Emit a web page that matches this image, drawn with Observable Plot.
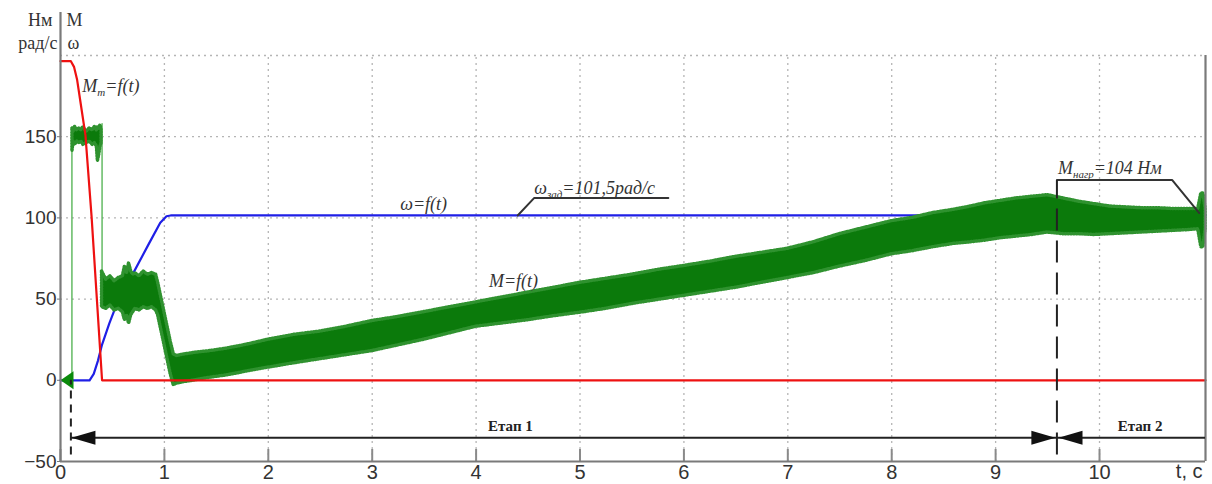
<!DOCTYPE html>
<html><head><meta charset="utf-8">
<script src="https://cdn.jsdelivr.net/npm/d3@7"></script>
<script src="https://cdn.jsdelivr.net/npm/@observablehq/plot@0.6"></script>
<style>html,body{margin:0;padding:0;background:#fff;} #chart svg{display:block}</style>
</head><body><div id="chart"></div>
<script>
// ---- axes / ticks ----
const xDomain = [0, 11.02];
const yDomain = [-50, 200];
const xTicks = [0,1,2,3,4,5,6,7,8,9,10];
const xGrid = [1,2,3,4,5,6,7,8,9,10];
const yTicks = [-50,0,50,100,150];
const yGrid = [50,100,150,200];

// ---- Mт = f(t) (red) ----
const redT = [0, 0.10, 0.13, 0.16, 0.20, 0.24, 0.30, 0.35, 0.40, 11.02];
const redV = [196.5, 196.5, 193, 185, 168, 151, 100, 50, 0, 0];

// ---- ω = f(t) (blue) ----
const blueT = [0, 0.28, 0.32, 0.36, 0.40, 0.47, 0.56, 0.70, 0.85, 0.96, 1.02, 1.06, 11.02];
const blueV = [0, 0, 4, 12, 22, 35, 50, 66, 84, 97, 101, 101.5, 101.5];

// ---- M = f(t) (green, noisy band: lower / upper envelope) ----
// start-up segment (≈150 Нм)
const green1T  = [0.115,0.125,0.14,0.16,0.18,0.20,0.22,0.25,0.28,0.31,0.33,0.35,0.36,0.37,0.385,0.395];
const green1Lo = [141,147,145,147,146,147,145,146,147,145,146,144,135,138,144,146];
const green1Hi = [155,153,156,154,155,154,156,153,155,154,156,154,156,155,157,154];
// acceleration + load ramp
const green2T = [0.40,0.44,0.48,0.52,0.56,0.60,0.62,0.64,0.66,0.68,0.70,0.72,0.76,0.80,0.84,0.88,0.92,0.94,0.98,1.02,1.06,1.09,
  1.12,1.2,1.3,1.44,1.6,1.8,2.0,2.25,2.5,2.75,3.0,3.25,3.5,3.75,4.0,4.25,4.5,4.75,5.0,5.25,5.5,5.75,6.0,6.25,6.5,6.75,7.0,7.25,7.5,7.75,8.0,8.2,8.4,8.6,8.76,8.9,9.05,9.2,9.35,9.5,9.65,9.8,9.95,10.1,10.25,10.4,10.55,10.7,10.85,10.95,10.98,11.0,11.02];
const green2Lo = [45,44,46,43,44,42,37,40,35,40,42,44,43,45,44,45,43,40,28,16,4,-3,
  -2,-1,0,1.6,3,5.5,7.8,10.5,13,15.5,18,21.5,25,29,33,35,37,39.5,41.6,44,47,49.5,52,54.5,57,60,63,66,70,73.5,77.6,79.5,82,84,85,86,87.5,88.5,89.5,91,90,90,89.5,90,90.5,91,91.5,92,92.5,93,82,82,93];
const green2Hi = [67,62,64,61,63,64,70,66,72,67,65,66,64,67,65,66,65,60,48,36,24,16,
  15,16,17,18,19.5,22,25,28,30,33,36.5,39,42,45,48,51,54,57,60,62.5,65,68,70.4,73,76,78.5,81,85,90,94,98,100,103,105,107,109,110.5,112,113,114,112,110,108.5,107,106.5,106,106,105.5,105.5,105.5,115,115,106];
// thin switching edges of M
const thinSeg = [1,1,1,2,2];
const thinT = [0, 0.11, 0.11, 0.40, 0.40];
const thinV = [0, 0, 156, 158, 45];

// ---- texts ----
const unitLeft = ["Нм", "рад/с"];
const unitRight = ["М", "ω"];
const stages = ["Етап 1", "Етап 2"];
const subs = [
  {main: "М", sub: "т", rest: "=f(t)"},
  {main: "ω", sub: "зад", rest: "=101,5рад/с"},
  {main: "М", sub: "нагр", rest: "=104 Нм"}
];

// ---- build tables ----
const red = redT.map((t,i)=>({t, v: redV[i]}));
const blue = blueT.map((t,i)=>({t, v: blueV[i]}));
const green = [
  ...green1T.map((t,i)=>({t, lo: green1Lo[i], hi: green1Hi[i], s: 1})),
  ...green2T.map((t,i)=>({t, lo: green2Lo[i], hi: green2Hi[i], s: 2}))
];
const thin = thinT.map((t,i)=>({t, v: thinV[i], s: thinSeg[i]}));

const triLeft = {draw(ctx){ctx.moveTo(0,0);ctx.lineTo(24,-7);ctx.lineTo(24,7);ctx.closePath();}};
const triSmall = {draw(ctx){ctx.moveTo(0,0);ctx.lineTo(13,-9);ctx.lineTo(13,9);ctx.closePath();}};

const serif = "'Liberation Serif','Times New Roman',serif";
const ann = {fontFamily: serif, fontStyle: "italic", fontSize: 18, fill: "#333"};
const leaderW = 2;

const chart = Plot.plot({
  width: 1212, height: 484,
  marginLeft: 60, marginRight: 7, marginTop: 55, marginBottom: 23,
  x: {domain: xDomain},
  y: {domain: yDomain},
  style: {fontFamily: "'Liberation Sans', Arial, sans-serif", fontSize: "18px", color: "#333", background: "#fff"},
  marks: [
    // grid
    Plot.ruleX(xGrid, {x: d=>d, y1: yDomain[0], y2: yDomain[1], stroke: "#b5b5b5", strokeDasharray: "2,4", strokeWidth: 1.3}),
    Plot.ruleY(yGrid, {y: d=>d, stroke: "#b5b5b5", strokeDasharray: "2,4", strokeWidth: 1.3}),
    // inward x ticks
    Plot.ruleX(xTicks, {x: d=>d, y1: yDomain[0], y2: yDomain[0] + 7.4, stroke: "#8a8a8a", strokeWidth: 2}),
    // axes labels
    Plot.axisX(xTicks, {tickSize: 0, tickPadding: 3, label: null, fontSize: 20, fill: "#333"}),
    Plot.axisY(yTicks, {tickSize: 3, tickPadding: 1, label: null, fontSize: 19, fill: "#333", stroke: "#777"}),
    // curves
    Plot.line(blue, {x: "t", y: "v", stroke: "#1f1fe6", strokeWidth: 2.2}),
    Plot.line(thin, {x: "t", y: "v", z: "s", stroke: "#4cb04c", strokeWidth: 1.3}),
    Plot.areaY(green, {x: "t", y1: "lo", y2: "hi", z: "s", fill: "#0b7a0b", stroke: "#2f922f", strokeWidth: 3.5, strokeDasharray: "1,1.8", curve: "linear"}),
    Plot.dot([0], {x: d=>d, y: 0, symbol: triSmall, fill: "#0b8a0b", stroke: "none"}),
    Plot.line(red, {x: "t", y: "v", stroke: "#ee1111", strokeWidth: 2.2}),
    // frame
    Plot.ruleY([yDomain[0]], {y: d=>d, stroke: "#7a7a7a", strokeWidth: 2.2}),
    Plot.ruleX([0], {x: d=>d, y1: yDomain[0], y2: 226.5, stroke: "#7a7a7a", strokeWidth: 2.2}),
    Plot.ruleX([xDomain[1]], {x: d=>d, y1: yDomain[0], y2: yDomain[1], stroke: "#7a7a7a", strokeWidth: 2.2}),
    // unit labels
    Plot.text([unitLeft[0]], {x: 0, y: 221.5, text: d=>d, textAnchor: "end", dx: -8, fontFamily: serif, fontSize: 18, fill: "#333"}),
    Plot.text([unitLeft[1]], {x: 0, y: 207.4, text: d=>d, textAnchor: "end", dx: -3, fontFamily: serif, fontSize: 18, fill: "#333"}),
    Plot.text([unitRight[0]], {x: 0, y: 221.5, text: d=>d, textAnchor: "start", dx: 6, fontFamily: serif, fontSize: 18, fill: "#333"}),
    Plot.text([unitRight[1]], {x: 0, y: 207.4, text: d=>d, textAnchor: "start", dx: 7, fontFamily: serif, fontSize: 18, fill: "#333"}),
    // t, c
    Plot.text(["t, c"], {x: xDomain[1], y: yDomain[0], text: d=>d, textAnchor: "end", dx: -3, dy: 10, fontSize: 20, fill: "#333"}),
    // annotations
    Plot.text([subs[0].main+subs[0].sub+subs[0].rest], {x: 0.21, y: 181, text: d=>d, textAnchor: "start", ...ann}),
    Plot.text(["ω=f(t)"], {x: 3.27, y: 108.5, text: d=>d, textAnchor: "start", ...ann}),
    Plot.text(["M=f(t)"], {x: 4.36, y: 61, text: d=>d, textAnchor: "middle", ...ann}),
    Plot.text([subs[1].main+subs[1].sub+subs[1].rest], {x: 4.56, y: 118.5, text: d=>d, textAnchor: "start", ...ann}),
    Plot.text([subs[2].main+subs[2].sub+subs[2].rest], {x: 9.60, y: 130.5, text: d=>d, textAnchor: "start", ...ann}),
    Plot.line([[4.40,101.5],[4.56,112.3],[5.85,112.3]], {stroke: "#333", strokeWidth: leaderW}),
    Plot.line([[9.59,123.3],[10.70,123.3],[10.96,103]], {stroke: "#333", strokeWidth: leaderW}),
    // stage markers
    Plot.ruleX([0.1], {x: d=>d, y1: -46, y2: 0, stroke: "#222", strokeWidth: 2, strokeDasharray: "8,6"}),
    Plot.ruleX([9.59], {x: d=>d, y1: -46, y2: 123, stroke: "#222", strokeWidth: 2, strokeDasharray: "22,10"}),
    Plot.ruleY([-35.3], {y: d=>d, x1: 0.1, x2: xDomain[1], stroke: "#222", strokeWidth: 2}),
    Plot.dot([0.105, 9.605], {x: d=>d, y: -35.3, symbol: triLeft, fill: "#111", stroke: "none"}),
    Plot.dot([9.575], {x: d=>d, y: -35.3, symbol: triLeft, rotate: 180, fill: "#111", stroke: "none"}),
    Plot.text([stages[0]], {x: 4.33, y: -28.4, text: d=>d, fontFamily: serif, fontWeight: "bold", fontSize: 15, fill: "#222"}),
    Plot.text([stages[1]], {x: 10.39, y: -28.4, text: d=>d, fontFamily: serif, fontWeight: "bold", fontSize: 15, fill: "#222"})
  ]
});
document.getElementById("chart").appendChild(chart);

// subscripts in annotation labels
d3.select(chart).selectAll("text").each(function(){
  const s = this.textContent;
  const spec = subs.find(d => d.main + d.sub + d.rest === s);
  if (!spec) return;
  const el = d3.select(this);
  el.text(null);
  el.append("tspan").text(spec.main);
  el.append("tspan").attr("font-size", 11).attr("dy", 4).text(spec.sub);
  el.append("tspan").attr("dy", -4).text(spec.rest);
});
</script>
</body></html>
